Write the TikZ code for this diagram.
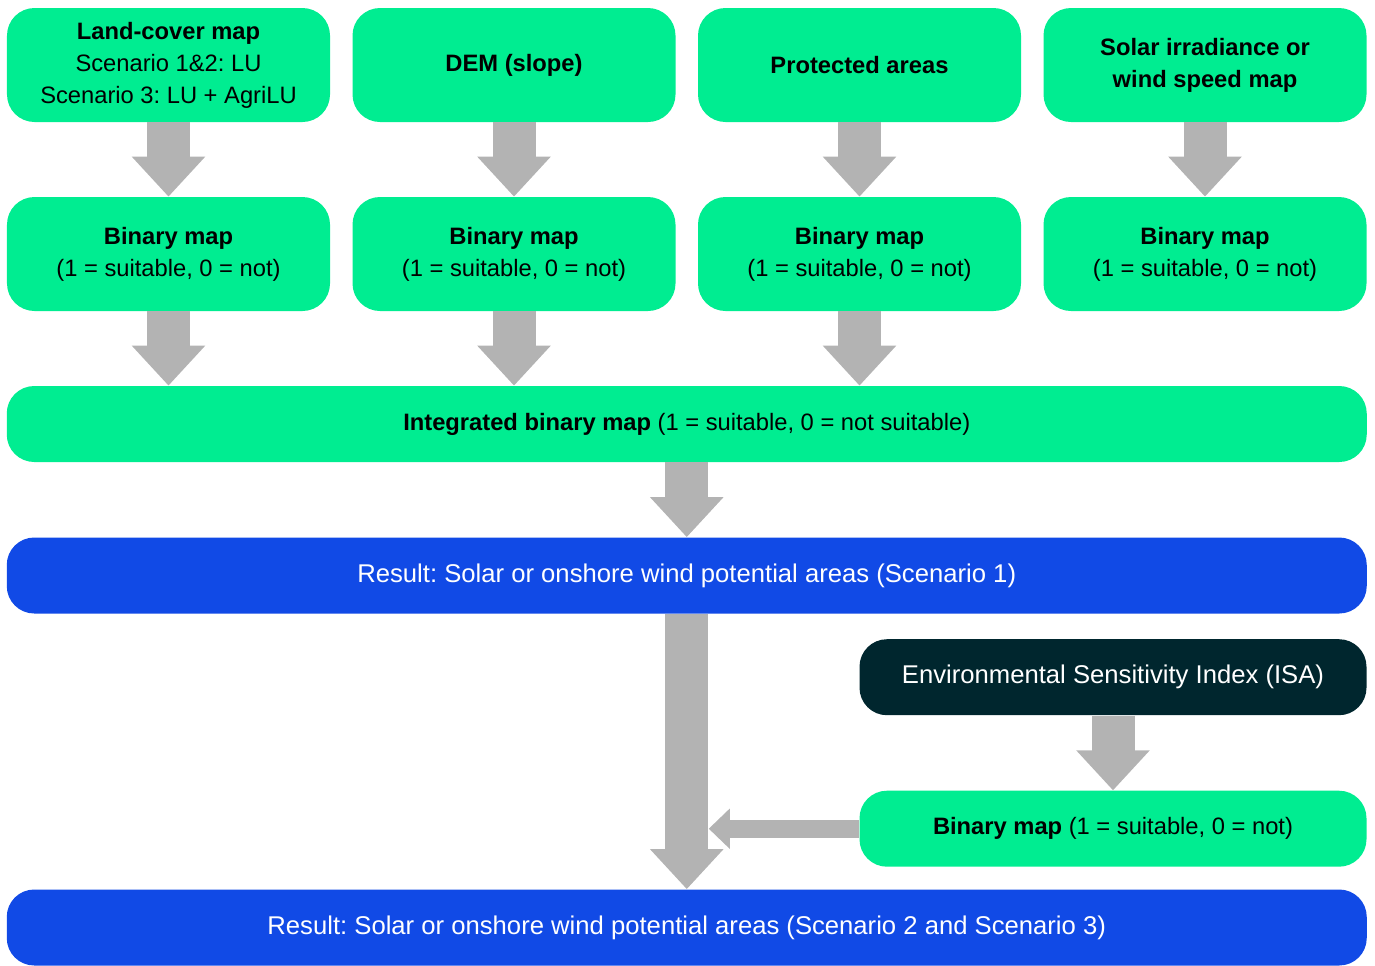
\documentclass[tikz,border=0pt]{standalone}
\usepackage{fontspec}
\setmainfont{Liberation Sans}
\usetikzlibrary{calc, arrows.meta}
\definecolor{mapgreen}{RGB}{0, 237, 145}
\definecolor{resultblue}{RGB}{17, 74, 230}
\definecolor{isadark}{RGB}{0, 38, 46}
\definecolor{arrowgray}{RGB}{179, 179, 179}
\tikzstyle{mapBox} = [shape=rectangle, fill=mapgreen, text=black,
	align=center, rounded corners=0.55cm]
\tikzstyle{MapBox} = [mapBox, minimum width=6.46cm, minimum height=2.28cm]
\tikzstyle{WideBox} = [mapBox, minimum width=27.2cm, minimum height=1.52cm]
\tikzstyle{ResultBox} = [WideBox, fill=resultblue, text=white,
	font=\fontsize{14.6}{19.7}\selectfont]
\tikzstyle{IndexBox} = [mapBox, minimum width=10.14cm, minimum height=1.52cm]
\tikzstyle{blockArrow} = [-{Triangle[length=0.8cm, width=1.42cm]},
	line width=0.86cm, arrowgray]
\tikzstyle{sideArrow} = [-{Triangle[length=0.42cm, width=0.78cm]},
	line width=0.36cm, arrowgray]

\begin{document}
\frenchspacing
\begin{tikzpicture}[node distance=6.91cm, font=\fontsize{13.5}{18.2}\selectfont]
  \useasboundingbox (0,0) rectangle (27.5,-19.3);
  \node (LAND)  [MapBox] at (3.37,-1.30) {\textbf{Land-cover map}\\Scenario 1\&2: LU\\Scenario 3: LU + AgriLU};
  \node (DEM)   [MapBox, right of=LAND] {\textbf{DEM (slope)}};
  \node (PROT)  [MapBox, right of=DEM] {\textbf{Protected areas}};
  \node (SOLAR) [MapBox, right of=PROT] {\textbf{Solar irradiance or}\\\textbf{wind speed map}};
  \node (BLAND)  [MapBox, below of=LAND, yshift=3.13cm] {\textbf{Binary map}\\(1 = suitable, 0 = not)};
  \node (BDEM)   [MapBox, below of=DEM, yshift=3.13cm] {\textbf{Binary map}\\(1 = suitable, 0 = not)};
  \node (BPROT)  [MapBox, below of=PROT, yshift=3.13cm] {\textbf{Binary map}\\(1 = suitable, 0 = not)};
  \node (BSOLAR) [MapBox, below of=SOLAR, yshift=3.13cm] {\textbf{Binary map}\\(1 = suitable, 0 = not)};
  \node (INTG) [WideBox] at ($(BDEM)!0.5!(BPROT)+(0,-3.4)$) {\textbf{Integrated binary map} (1 = suitable, 0 = not suitable)};
  \node (RES1) [ResultBox, below of=INTG, yshift=3.88cm] {Result: Solar or onshore wind potential areas (Scenario 1)};
  \node (ISA)  [IndexBox, fill=isadark, text=white, font=\fontsize{14.6}{19.7}\selectfont, anchor=north east] at ($(RES1.south -| SOLAR.east)+(0,-0.5)$) {Environmental Sensitivity Index (ISA)};
  \node (BISA) [IndexBox, below of=ISA, yshift=3.88cm] {\textbf{Binary map} (1 = suitable, 0 = not)};
  \node (RES2) [ResultBox, below of=RES1, yshift=-0.13cm] {Result: Solar or onshore wind potential areas (Scenario 2 and Scenario 3)};

  \draw [blockArrow] (LAND) -- (BLAND);
  \draw [blockArrow] (DEM) -- (BDEM);
  \draw [blockArrow] (PROT) -- (BPROT);
  \draw [blockArrow] (SOLAR) -- (BSOLAR);
  \draw [blockArrow] (BLAND) -- (BLAND |- INTG.north);
  \draw [blockArrow] (BDEM) -- (BDEM |- INTG.north);
  \draw [blockArrow] (BPROT) -- (BPROT |- INTG.north);
  \draw [blockArrow] (INTG) -- (RES1);
  \draw [blockArrow] (RES1) -- (RES2);
  \draw [blockArrow] (ISA) -- (BISA);
  \coordinate (JOIN) at ($(BISA.west -| RES1.south)+(0.44,0)$);
  \draw [sideArrow] (BISA) -- (JOIN);

\end{tikzpicture}
\end{document}
